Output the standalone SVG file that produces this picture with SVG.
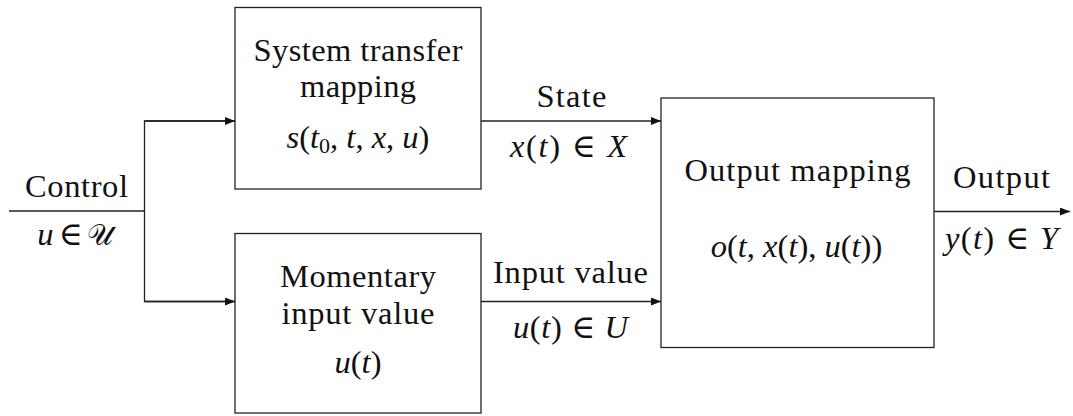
<svg xmlns="http://www.w3.org/2000/svg" width="1073" height="416" viewBox="0 0 1073 416">
<style>
.box{fill:#fff;stroke:#222;stroke-width:1.3}
.ln{fill:none;stroke:#222;stroke-width:1.3}
text{font-family:"Liberation Serif","DejaVu Serif",serif;font-size:32.5px;fill:#111;text-anchor:middle}
.i{font-style:italic}
.sub{font-size:22px}
.cal{font-family:"DejaVu Sans","Noto Sans",serif;font-style:normal;font-size:29px}
</style>
<defs>
<marker id="ah" viewBox="0 0 10 8" refX="10" refY="4" markerWidth="10" markerHeight="8" markerUnits="userSpaceOnUse" orient="auto">
<path d="M0,0 L10,4 L0,8 Z" fill="#111"/>
</marker>
</defs>
<rect width="1073" height="416" fill="#fff"/>
<g id="connectors">
<line class="ln" x1="9" y1="211" x2="144.5" y2="211"/>
<polyline class="ln" points="235,121 144.5,121 144.5,301.5 235,301.5"/>
<line class="ln" x1="144.5" y1="121" x2="235" y2="121" marker-end="url(#ah)"/>
<line class="ln" x1="144.5" y1="301.5" x2="235" y2="301.5" marker-end="url(#ah)"/>
<line class="ln" x1="481" y1="121" x2="661" y2="121" marker-end="url(#ah)"/>
<line class="ln" x1="481" y1="301.5" x2="661" y2="301.5" marker-end="url(#ah)"/>
<line class="ln" x1="934" y1="211.5" x2="1070" y2="211.5" marker-end="url(#ah)"/>
<text x="76.5" y="197" textLength="103" lengthAdjust="spacing">Control</text>
<text x="75.3" y="245" textLength="76" lengthAdjust="spacing"><tspan class="i">u</tspan> ∈ <tspan class="cal">𝒰</tspan></text>
<text x="571.5" y="106.5" textLength="70" lengthAdjust="spacing">State</text>
<text x="568.5" y="157" textLength="117" lengthAdjust="spacing"><tspan class="i">x</tspan>(<tspan class="i">t</tspan>) ∈ <tspan class="i">X</tspan></text>
<text x="570.5" y="283" textLength="155" lengthAdjust="spacing">Input value</text>
<text x="570.5" y="337.5" textLength="115" lengthAdjust="spacing"><tspan class="i">u</tspan>(<tspan class="i">t</tspan>) ∈ <tspan class="i">U</tspan></text>
<text x="1001.5" y="188" textLength="97" lengthAdjust="spacing">Output</text>
<text x="1001.5" y="248.5" textLength="113" lengthAdjust="spacing"><tspan class="i">y</tspan>(<tspan class="i">t</tspan>) ∈ <tspan class="i">Y</tspan></text>
</g>
<g id="sys">
<rect class="box" x="235" y="7.5" width="246" height="181.5"/>
<text x="358" y="60.5" textLength="209" lengthAdjust="spacing">System transfer</text>
<text x="358" y="97" textLength="116" lengthAdjust="spacing">mapping</text>
<text x="358" y="148"><tspan class="i">s</tspan>(<tspan class="i">t</tspan><tspan class="sub" dy="5">0</tspan><tspan dy="-5">, </tspan><tspan class="i">t</tspan>, <tspan class="i">x</tspan>, <tspan class="i">u</tspan>)</text>
</g>
<g id="mom">
<rect class="box" x="235" y="233.5" width="246" height="179.5"/>
<text x="358" y="287" textLength="156" lengthAdjust="spacing">Momentary</text>
<text x="358" y="324" textLength="153" lengthAdjust="spacing">input value</text>
<text x="358" y="373"><tspan class="i">u</tspan>(<tspan class="i">t</tspan>)</text>
</g>
<g id="out">
<rect class="box" x="661" y="98" width="273" height="249.5"/>
<text x="797.5" y="181" textLength="226" lengthAdjust="spacing">Output mapping</text>
<text x="796.5" y="257"><tspan class="i">o</tspan>(<tspan class="i">t</tspan>, <tspan class="i">x</tspan>(<tspan class="i">t</tspan>), <tspan class="i">u</tspan>(<tspan class="i">t</tspan>))</text>
</g>
</svg>
